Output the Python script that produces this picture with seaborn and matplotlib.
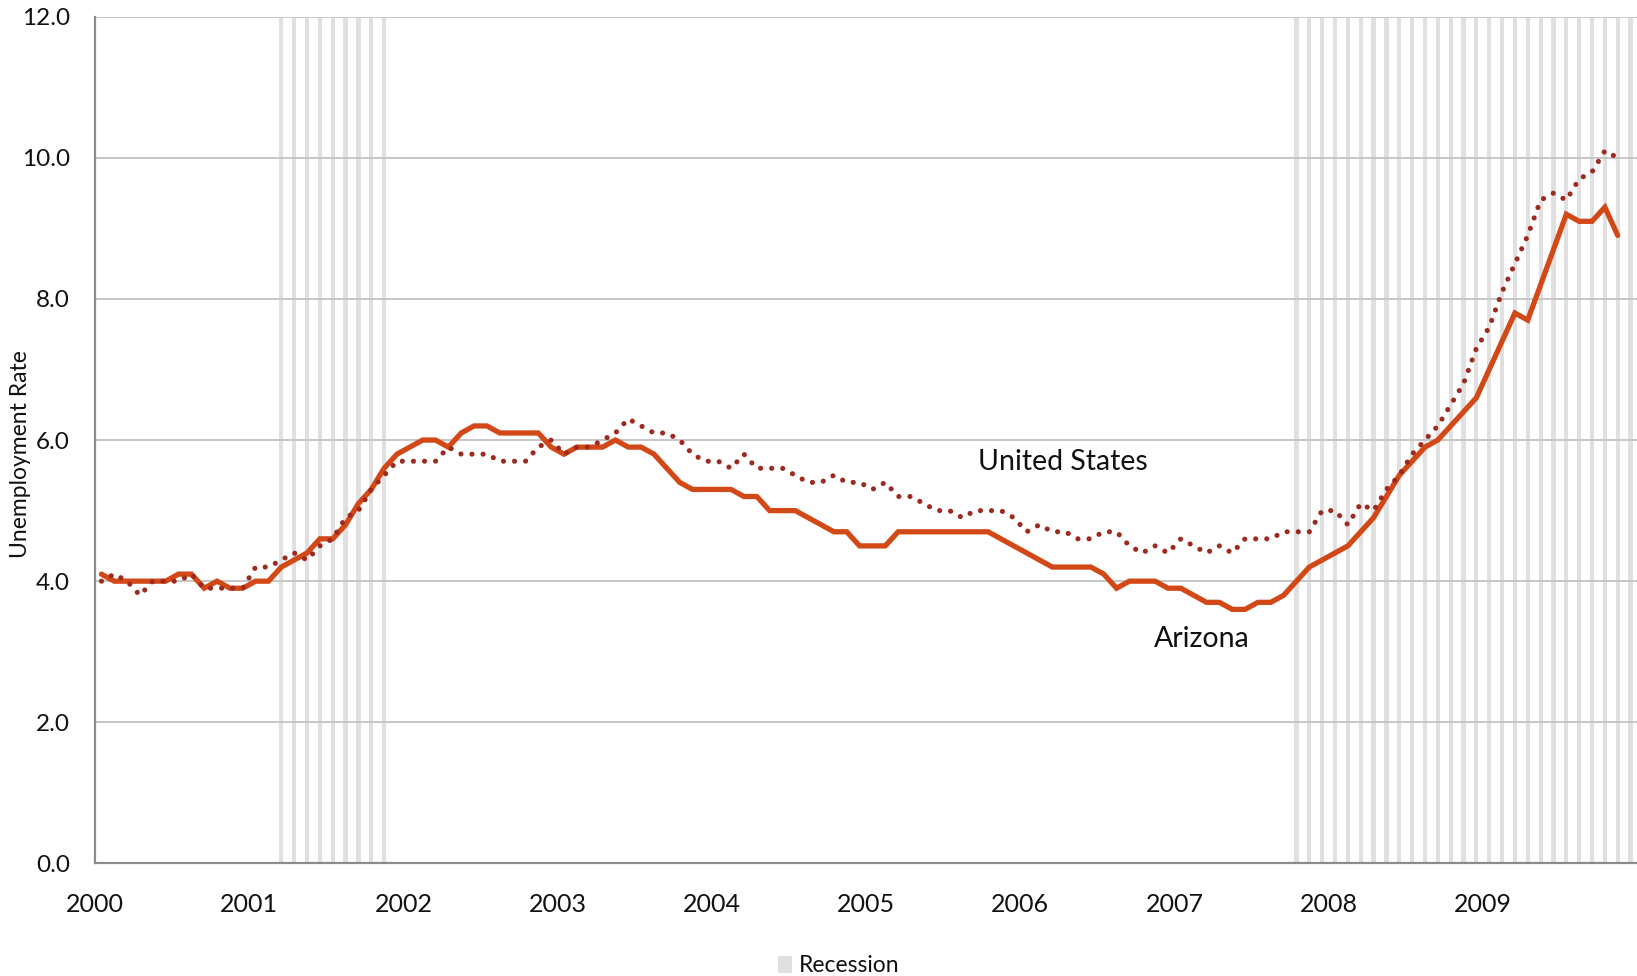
import numpy as np
import pandas as pd
import matplotlib
matplotlib.use("Agg")
import matplotlib.pyplot as plt
import seaborn as sns
from matplotlib.patches import Patch

# ---------------- data ----------------
year_labels = ["2000", "2001", "2002", "2003", "2004", "2005", "2006", "2007", "2008", "2009"]

arizona = [
    4.1, 4.0, 4.0, 4.0, 4.0, 4.0, 4.1, 4.1, 3.9, 4.0, 3.9, 3.9,   # 2000
    4.0, 4.0, 4.2, 4.3, 4.4, 4.6, 4.6, 4.8, 5.1, 5.3, 5.6, 5.8,   # 2001
    5.9, 6.0, 6.0, 5.9, 6.1, 6.2, 6.2, 6.1, 6.1, 6.1, 6.1, 5.9,   # 2002
    5.8, 5.9, 5.9, 5.9, 6.0, 5.9, 5.9, 5.8, 5.6, 5.4, 5.3, 5.3,   # 2003
    5.3, 5.3, 5.2, 5.2, 5.0, 5.0, 5.0, 4.9, 4.8, 4.7, 4.7, 4.5,   # 2004
    4.5, 4.5, 4.7, 4.7, 4.7, 4.7, 4.7, 4.7, 4.7, 4.7, 4.6, 4.5,   # 2005
    4.4, 4.3, 4.2, 4.2, 4.2, 4.2, 4.1, 3.9, 4.0, 4.0, 4.0, 3.9,   # 2006
    3.9, 3.8, 3.7, 3.7, 3.6, 3.6, 3.7, 3.7, 3.8, 4.0, 4.2, 4.3,   # 2007
    4.4, 4.5, 4.7, 4.9, 5.2, 5.5, 5.7, 5.9, 6.0, 6.2, 6.4, 6.6,   # 2008
    7.0, 7.4, 7.8, 7.7, 8.2, 8.7, 9.2, 9.1, 9.1, 9.3, 8.9,        # 2009
]

united_states = [
    4.0, 4.1, 4.0, 3.8, 4.0, 4.0, 4.0, 4.1, 3.9, 3.9, 3.9, 3.9,   # 2000
    4.2, 4.2, 4.3, 4.4, 4.3, 4.5, 4.6, 4.9, 5.0, 5.3, 5.5, 5.7,   # 2001
    5.7, 5.7, 5.7, 5.9, 5.8, 5.8, 5.8, 5.7, 5.7, 5.7, 5.9, 6.0,   # 2002
    5.8, 5.9, 5.9, 6.0, 6.1, 6.3, 6.2, 6.1, 6.1, 6.0, 5.8, 5.7,   # 2003
    5.7, 5.6, 5.8, 5.6, 5.6, 5.6, 5.5, 5.4, 5.4, 5.5, 5.4, 5.4,   # 2004
    5.3, 5.4, 5.2, 5.2, 5.1, 5.0, 5.0, 4.9, 5.0, 5.0, 5.0, 4.9,   # 2005
    4.7, 4.8, 4.7, 4.7, 4.6, 4.6, 4.7, 4.7, 4.5, 4.4, 4.5, 4.4,   # 2006
    4.6, 4.5, 4.4, 4.5, 4.4, 4.6, 4.6, 4.6, 4.7, 4.7, 4.7, 5.0,   # 2007
    5.0, 4.8, 5.1, 5.0, 5.3, 5.5, 5.8, 6.0, 6.2, 6.5, 6.8, 7.3,   # 2008
    7.6, 8.1, 8.5, 8.9, 9.4, 9.5, 9.4, 9.7, 9.8, 10.1, 10.0,      # 2009
]

recession_periods = [("2001-03", "2001-11"), ("2007-10", "2009-12")]
recession_level = 12.0

# ---------------- styling ----------------
AZ_COLOR = "#D34817"
US_COLOR = "#9E2A1F"
REC_COLOR = "#E0E0E0"
GRID_COLOR = "#C6C6C6"
SPINE_COLOR = "#8C8C8C"
TEXT_COLOR = "#111111"

sns.set_theme(style="white")
plt.rcParams["font.family"] = ["Lato", "DejaVu Sans"]

months_all = pd.period_range("2000-01", "2009-12", freq="M")
month_pos = {p: i + 0.5 for i, p in enumerate(months_all)}

az_df = pd.DataFrame({"pos": [month_pos[months_all[i]] for i in range(len(arizona))],
                      "rate": arizona})
us_df = pd.DataFrame({"pos": [month_pos[months_all[i]] for i in range(len(united_states))],
                      "rate": united_states})

rec_x = []
for s, e in recession_periods:
    for p in pd.period_range(s, e, freq="M"):
        rec_x.append(month_pos[p])

W, H = 1637, 976
fig = plt.figure(figsize=(W / 100, H / 100), dpi=100)
ax = fig.add_axes([95 / W, 112.6 / H, 1542 / W, 846.7 / H])

ax.bar(rec_x, [recession_level] * len(rec_x), width=0.33, color=REC_COLOR,
       linewidth=0, zorder=0.2)

ax.set_axisbelow(True)
ax.yaxis.grid(True, color=GRID_COLOR, linewidth=1.4)
ax.xaxis.grid(False)

sns.lineplot(data=az_df, x="pos", y="rate", ax=ax, color=AZ_COLOR, linewidth=3.8,
             sort=False, solid_joinstyle="miter", zorder=3)
sns.lineplot(data=us_df, x="pos", y="rate", ax=ax, color=US_COLOR, linewidth=3.7,
             sort=False, linestyle=(0, (0.01, 2.15)), dash_capstyle="round", zorder=4)

ax.set_xlim(0, 120)
ax.set_ylim(0, 12)
ax.set_xticks(np.arange(0, 120, 12))
ax.set_xticklabels(year_labels)
ax.set_yticks(np.arange(0, 12.01, 2))
ax.set_yticklabels([f"{v:.1f}" for v in np.arange(0, 12.01, 2)])
ax.set_xlabel("")
ax.set_ylabel("")

for side in ["top", "right"]:
    ax.spines[side].set_visible(False)
for side in ["left", "bottom"]:
    ax.spines[side].set_color(SPINE_COLOR)
    ax.spines[side].set_linewidth(1.6)
    ax.spines[side].set_zorder(5)

ax.tick_params(axis="x", direction="out", length=7, width=1.4, color=SPINE_COLOR,
               labelsize=18, labelcolor=TEXT_COLOR, pad=14)
ax.tick_params(axis="y", direction="out", length=7, width=1.4, color=GRID_COLOR,
               labelsize=17.5, labelcolor=TEXT_COLOR, pad=11)

ax.text(75.3, 5.57, "United States", fontsize=20.5, color=TEXT_COLOR,
        ha="center", va="baseline", zorder=6)
ax.text(86.1, 3.07, "Arizona", fontsize=20.5, color=TEXT_COLOR,
        ha="center", va="baseline", zorder=6)

fig.text(21 / W, 1 - 454 / H, "Unemployment Rate", rotation=90, fontsize=16.5,
         color=TEXT_COLOR, ha="center", va="center")

fig.legend(handles=[Patch(facecolor=REC_COLOR, edgecolor="none", label="Recession")],
           loc="center", bbox_to_anchor=(839 / W, 1 - 966 / H), frameon=False,
           fontsize=16.5, handlelength=0.6, handleheight=0.8, handletextpad=0.3,
           labelcolor=TEXT_COLOR, borderpad=0)

fig.savefig("out.png", dpi=100)
